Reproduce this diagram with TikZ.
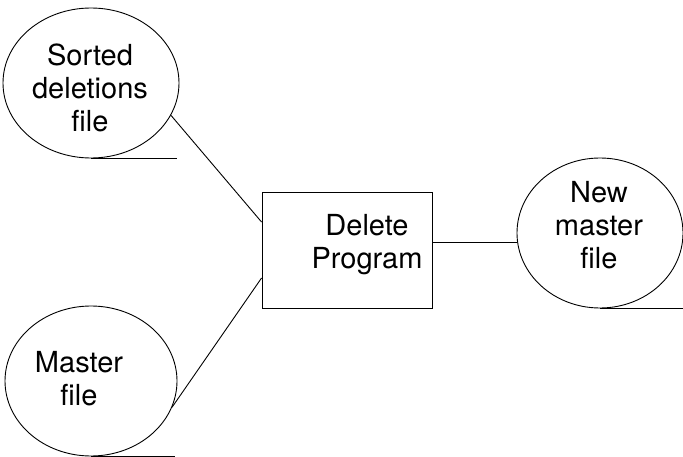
\documentclass[tikz,border=0pt]{standalone}
\usepackage{fontspec}
\setmainfont{TeX Gyre Heros}
\usetikzlibrary{shapes.geometric}
\begin{document}
\begin{tikzpicture}[x=1pt,y=-1pt,
  line width=0.9pt,
  every node/.style={font=\fontsize{29}{33}\selectfont, align=center, inner sep=0pt},
  store/.style={draw, ellipse, minimum width=#1, minimum height=150pt},
  procbox/.style={draw, rectangle, minimum width=170pt, minimum height=116pt},
  lbl/.style={draw=none}]
\useasboundingbox (0,0) rectangle (683,457);

% data stores
\node[store=176pt] (sdf) at (91,83) {};
\node[store=172pt] (mf) at (91,381) {};
\node[store=166pt] (nmf) at (600,233) {};
% process
\node[procbox] (prog) at (347,250) {};

% labels
\node[lbl] (sdftxt) at (90,88) {Sorted\\deletions\\file};
\node[lbl] (mftxt) at (79,379) {Master\\file};
\node[lbl] (progtxt) at (367,245) {Delete\\Program};
\node[lbl] (nmftxt) at (599,225) {New\\master\\file};

% file tails
\draw (sdf.south) -- ++(86,0);
\draw (mf.south) -- ++(84,0);
\draw (nmf.south) -- ++(83,0);

% flows
\draw (sdf.-22) -- ([yshift=28pt]prog.west);
\draw (mf.-18) -- ([yshift=-28pt]prog.west);
\draw ([yshift=8pt]prog.east) -- ([yshift=8pt]prog.east -| nmf.west);
\end{tikzpicture}
\end{document}
